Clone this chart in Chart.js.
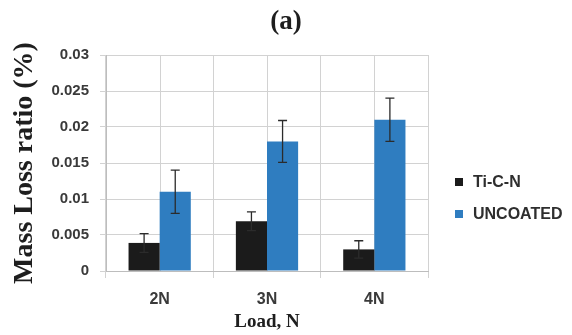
<!DOCTYPE html>
<html>
<head>
<meta charset="utf-8">
<script src="https://cdn.jsdelivr.net/npm/chart.js@4.4.1/dist/chart.umd.min.js"></script>
<style>
  html, body { margin: 0; padding: 0; background: #fff; }
  #wrap { width: 572px; height: 335px; position: relative; }
</style>
</head>
<body>
<div id="wrap"><canvas id="chart" width="572" height="335"></canvas></div>
<script>
const categories = ['2N', '3N', '4N'];
const seriesNames = ['Ti-C-N', 'UNCOATED'];
const tiValues = [0.0039, 0.0069, 0.003];
const tiErrors = [0.0013, 0.0013, 0.0012];
const uncoatedValues = [0.011, 0.018, 0.021];
const uncoatedErrors = [0.003, 0.0029, 0.003];
const yTickLabels = ['0', '0.005', '0.01', '0.015', '0.02', '0.025', '0.03'];

const gridColor = '#d2d2d2';
const tickFont = { family: 'Liberation Sans', weight: 'bold', size: 15 };

// error bars, drawn through the y scale
const errorBars = {
  id: 'errorBars',
  afterDatasetsDraw(chart) {
    const ctx = chart.ctx;
    const y = chart.scales.y;
    chart.data.datasets.forEach((ds, i) => {
      const meta = chart.getDatasetMeta(i);
      meta.data.forEach((bar, j) => {
        const v = ds.data[j];
        const e = ds.errors[j];
        const top = y.getPixelForValue(v + e);
        const bot = y.getPixelForValue(v - e);
        ctx.save();
        ctx.strokeStyle = '#2b2b2b';
        ctx.lineWidth = 1.3;
        ctx.beginPath();
        ctx.moveTo(bar.x, top);
        ctx.lineTo(bar.x, bot);
        ctx.moveTo(bar.x - 4.5, top);
        ctx.lineTo(bar.x + 4.5, top);
        ctx.moveTo(bar.x - 4.5, bot);
        ctx.lineTo(bar.x + 4.5, bot);
        ctx.stroke();
        ctx.restore();
      });
    });
  }
};

// extra vertical grid lines through the category centres
const centerLines = {
  id: 'centerLines',
  beforeDatasetsDraw(chart) {
    const ctx = chart.ctx;
    const x = chart.scales.x;
    const area = chart.chartArea;
    ctx.save();
    ctx.strokeStyle = gridColor;
    ctx.lineWidth = 1;
    categories.forEach((c, i) => {
      const px = Math.round(x.getPixelForValue(i)) + 0.5;
      ctx.beginPath();
      ctx.moveTo(px, area.top);
      ctx.lineTo(px, area.bottom);
      ctx.stroke();
    });
    ctx.restore();
  }
};

// legend on the right
const sideLegend = {
  id: 'sideLegend',
  afterDraw(chart) {
    const ctx = chart.ctx;
    const rows = [182, 214];
    ctx.save();
    ctx.font = 'bold 16px "Liberation Sans"';
    ctx.textBaseline = 'middle';
    ctx.textAlign = 'left';
    chart.data.datasets.forEach((ds, i) => {
      ctx.fillStyle = ds.backgroundColor;
      ctx.fillRect(455, rows[i] - 4, 8, 8);
      ctx.fillStyle = '#2e2e2e';
      ctx.fillText(ds.label, 473, rows[i] + 1);
    });
    ctx.restore();
  }
};

new Chart(document.getElementById('chart'), {
  type: 'bar',
  data: {
    labels: categories,
    datasets: [
      {
        label: seriesNames[0],
        data: tiValues,
        errors: tiErrors,
        backgroundColor: '#1b1b1b',
        categoryPercentage: 0.58,
        barPercentage: 1.0
      },
      {
        label: seriesNames[1],
        data: uncoatedValues,
        errors: uncoatedErrors,
        backgroundColor: '#2f7dc0',
        categoryPercentage: 0.58,
        barPercentage: 1.0
      }
    ]
  },
  options: {
    responsive: false,
    animation: false,
    layout: { padding: 0 },
    plugins: {
      legend: { display: false },
      tooltip: { enabled: false },
      title: {
        display: true,
        text: '(a)',
        color: '#1e1e1e',
        font: { family: 'Liberation Serif', weight: 'bold', size: 27, lineHeight: 1.2 },
        padding: { top: 6, bottom: 16.6 }
      }
    },
    scales: {
      x: {
        grid: { offset: true, color: gridColor, drawTicks: true, tickLength: 7, tickColor: gridColor },
        border: { color: '#bdbdbd' },
        ticks: { color: '#3a3a3a', font: { family: 'Liberation Sans', weight: 'bold', size: 16 }, padding: 12 },
        title: {
          display: true,
          text: 'Load, N',
          color: '#1e1e1e',
          font: { family: 'Liberation Serif', weight: 'bold', size: 19, lineHeight: 1.2 },
          padding: { top: 2, bottom: 2 }
        },
        afterFit(scale) { scale.height = 64; }
      },
      y: {
        min: 0,
        max: 0.03,
        grid: { color: gridColor, drawTicks: true, tickLength: 6, tickColor: gridColor },
        border: { color: '#bdbdbd' },
        ticks: {
          stepSize: 0.005,
          color: '#3a3a3a',
          font: tickFont,
          padding: 11,
          callback: (v, i) => yTickLabels[i]
        },
        title: {
          display: true,
          text: 'Mass Loss ratio (%)',
          color: '#1e1e1e',
          font: { family: 'Liberation Serif', weight: 'bold', size: 28, lineHeight: 1.2 },
          padding: { top: 8, bottom: 0 }
        },
        afterFit(scale) { scale.width = 106; }
      },
      // empty right-hand scale that reserves the room for the legend
      side: {
        type: 'linear',
        position: 'right',
        display: true,
        grid: { display: false, drawTicks: false },
        border: { display: false },
        ticks: { display: false },
        afterFit(scale) { scale.width = 144; }
      }
    }
  },
  plugins: [centerLines, errorBars, sideLegend]
});
</script>
</body>
</html>
